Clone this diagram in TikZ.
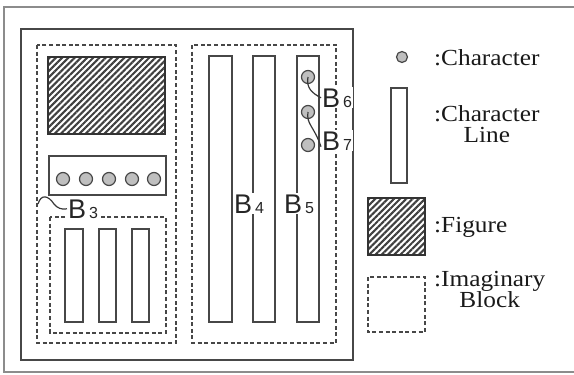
\documentclass[tikz,border=0pt]{standalone}
\usepackage{fontspec}
\setmainfont{Liberation Serif}[FakeStretch=1.1]
\newfontfamily\bfam{Liberation Sans}
\usetikzlibrary{patterns.meta}
\begin{document}
\begin{tikzpicture}[x=1pt,y=-1pt,
  frameline/.style={draw=black!72, line width=1.3pt},
  dashbox/.style={draw=black!72, line width=1.3pt, dash pattern=on 4pt off 2.6pt},
  cline/.style={draw=black!72, line width=1.3pt, fill=white},
  hatch/.style={draw=black!80, line width=1.4pt, pattern={Lines[angle=45,distance=4.4pt,line width=2.1pt]}, pattern color=black!75},
  chr/.style={circle, draw=black!72, line width=1.2pt, fill=black!25, minimum size=13pt, inner sep=0pt},
  blab/.style={font=\bfam\fontsize{27}{27}\selectfont, fill=white, inner sep=1pt, anchor=base west, text=black!85},
  sub/.style={},
  ltext/.style={font=\fontsize{23}{21}\selectfont, align=center, inner sep=0pt, anchor=base west, text=black!90},
  leader/.style={draw=black!78, line width=1.2pt}
]
\useasboundingbox (0,0) rectangle (574,375);
% outer frame
\draw[draw=black!45, line width=1.2pt] (574,7) -- (4,7) -- (4,372) -- (574,372);
% page
\draw[frameline] (21,29) rectangle (353,360);
% left imaginary block
\draw[dashbox] (37,45) rectangle (176,343);
\draw[hatch] (48,57) rectangle (165,134);
\draw[frameline] (49,156) rectangle (166,195);
\foreach \i/\x in {1/63,2/86,3/109,4/132,5/154}
  \node[chr] (c\i) at (\x,179) {};
\draw[dashbox] (50,217) rectangle (166,333);
\draw[cline] (65,229) rectangle (83,322);
\draw[cline] (99,229) rectangle (116,322);
\draw[cline] (132,229) rectangle (149,322);
% right imaginary block
\draw[dashbox] (192,45) rectangle (336,343);
\draw[cline] (209,56) rectangle (232,322);
\draw[cline] (253,56) rectangle (275,322);
\draw[cline] (297,56) rectangle (319,322);
\node[chr] (r1) at (308,77) {};
\node[chr] (r2) at (308,112) {};
\node[chr] (r3) at (308,145) {};
% labels
\node[blab] (b3) at (67,218) {B\hspace{3pt}{\fontsize{16}{16}\selectfont 3}};
\node[blab] (b4) at (233,213) {B\hspace{3pt}{\fontsize{16}{16}\selectfont 4}};
\node[blab] (b5) at (283,213) {B\hspace{3pt}{\fontsize{16}{16}\selectfont 5}};
\node[blab] (b6) at (321,107) {B\hspace{3pt}{\fontsize{16}{16}\selectfont 6}};
\node[blab] (b7) at (321,150) {B\hspace{3pt}{\fontsize{16}{16}\selectfont 7}};
% leaders
\coordinate (w3) at (38,204);
\draw[leader] (w3) .. controls (41,194) and (48,195) .. (54,204) .. controls (57,208) and (62,210) .. (b3.west);
\draw[leader] (r1.center) .. controls (306,88) and (312,93) .. (b6.west);
\draw[leader] (r2.center) .. controls (306,124) and (314,126) .. ([yshift=-6pt]b7.west);
% legend
\node[chr, minimum size=11pt] (lc) at (402,57) {};
\draw[cline] (391,88) rectangle (407,183);
\draw[hatch] (368,198) rectangle (425,255);
\draw[dashbox] (368,277) rectangle (425,332);
\node[ltext] (t1) at (434,65) {:Character};
\node[ltext] (t2) at (434,142) {:Character\\Line};
\node[ltext] (t3) at (434,232) {:Figure};
\node[ltext] (t4) at (434,307) {:Imaginary\\Block};
\end{tikzpicture}
\end{document}
